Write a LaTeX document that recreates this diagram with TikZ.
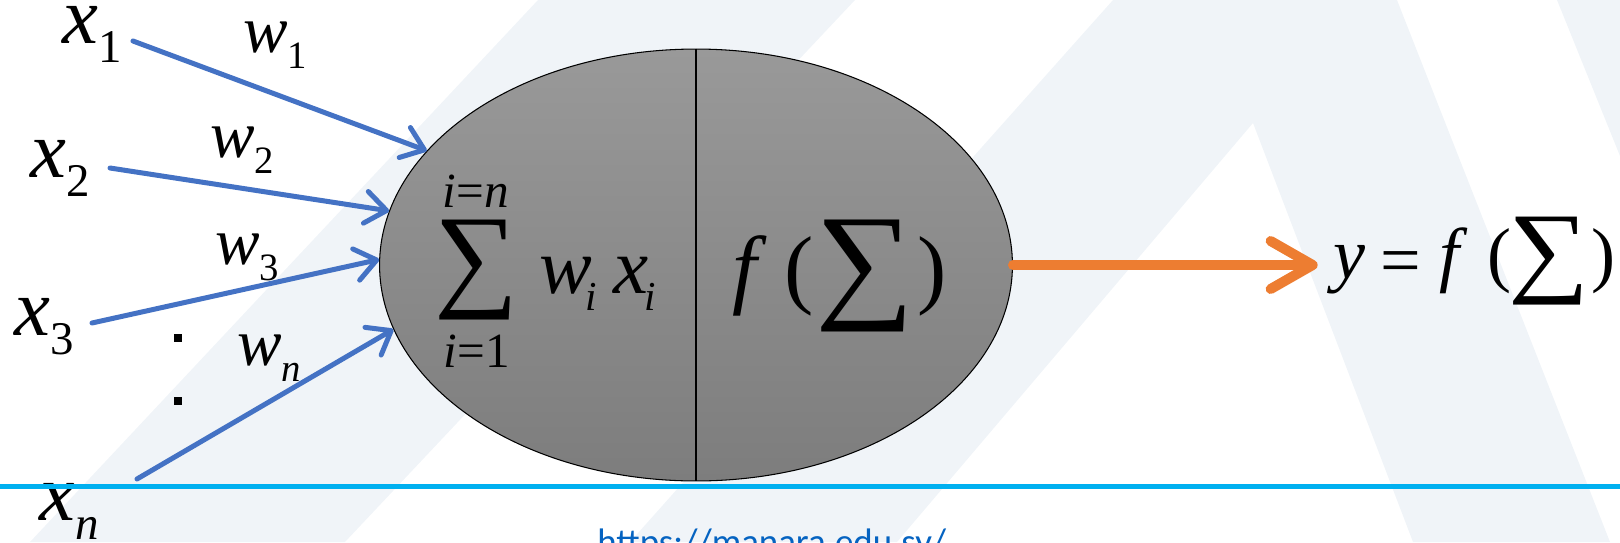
\documentclass[tikz,border=0pt]{standalone}
\usepackage{graphicx}
\usepackage{fontspec}
\setmainfont{Liberation Serif}
\newfontfamily\urlfont{Carlito}
\newfontfamily\sumfont{Liberation Serif}
\usetikzlibrary{arrows.meta,shapes.geometric}
\definecolor{bandgray}{RGB}{240,244,248}
\definecolor{neutop}{RGB}{153,153,153}
\definecolor{neubot}{RGB}{125,125,125}
\definecolor{inblue}{RGB}{68,114,196}
\definecolor{outorange}{RGB}{237,125,49}
\definecolor{rulecyan}{RGB}{0,176,240}
\definecolor{linkblue}{RGB}{5,99,193}
\newcommand{\isub}[2]{\textit{#1}\raisebox{-0.24em}{\scalebox{0.58}{#2}}}
\newcommand{\isum}[2]{\resizebox*{#1}{#2}{\sumfont ∑}}

\begin{document}
\begin{tikzpicture}[
    x=0.02cm, y=-0.02cm,
    band/.style={fill=bandgray},
    neuron/.style={ellipse, draw, line width=0.6pt, top color=neutop, bottom color=neubot,
                   minimum width=12.66cm, minimum height=8.64cm, inner sep=0pt},
    inlbl/.style={font=\fontsize{46}{46}\selectfont, anchor=base west, inner sep=0pt},
    wlbl/.style={font=\fontsize{38}{38}\selectfont, anchor=base west, inner sep=0pt},
    limlbl/.style={font=\fontsize{28}{28}\selectfont, anchor=base, inner sep=0pt},
    fglyph/.style={font=\fontsize{50}{50}\selectfont, anchor=base, inner sep=0pt},
    yglyph/.style={font=\fontsize{41}{41}\selectfont, anchor=base, inner sep=0pt},
    inarrow/.style={draw=inblue, line width=0.1cm, line cap=round,
                    -{Straight Barb[round, length=0.42cm, width=0.64cm]}},
    outarrow/.style={draw=outorange, line width=0.2cm, line cap=round,
                     -{Straight Barb[round, length=0.84cm, width=0.96cm]}}
  ]
  \clip (0,0) rectangle (1620,542);
  % watermark bands
  \fill[band] (538,0) -- (855,0) -- (345,542) -- (30,542) -- cycle;
  \fill[band] (1113,0) -- (1397,0) -- (1610,542) -- (1413,542) -- (1253,123)
              -- (897,542) -- (630,542) -- cycle;
  \fill[band] (1557,0) -- (1620,0) -- (1620,156) -- cycle;

  \node[neuron] (neuron) at (696,265) {};
  \draw[line width=0.045cm] (neuron.north) -- (neuron.south);

  % weighted sum
  \node[limlbl] (sumtop) at (476,207) {\textit{i}=\textit{n}};
  \node[inner sep=0pt] (sumleft) at (476,270) {\isum{1.68cm}{2cm}};
  \node[limlbl] (sumbot) at (477,367) {\textit{i}=1};
  \node[font=\fontsize{45}{45}\selectfont, anchor=base west, inner sep=0pt] (wx) at (539,293)
    {\textit{w}\kern-0.08em\raisebox{-0.22em}{\scalebox{0.52}{\textit{i}}}\kern0.2em
     \textit{x}\kern-0.04em\raisebox{-0.22em}{\scalebox{0.52}{\textit{i}}}};

  % activation
  \node[fglyph] (fsym) at (750,297) {\textit{f}};
  \node[fglyph] (flpar) at (799,297) {(};
  \node[inner sep=0pt] (fsum) at (865,276) {\isum{1.98cm}{2.24cm}};
  \node[fglyph] (frpar) at (932,297) {)};

  % output
  \node[yglyph] (ysym) at (1349,278) {\textit{y}};
  \node[yglyph] (yeq) at (1401,284) {=};
  \node[yglyph] (yf) at (1454,278) {\textit{f}};
  \node[yglyph] (ylpar) at (1499,278) {(};
  \node[inner sep=0pt] (ysum) at (1549,261) {\isum{1.62cm}{1.76cm}};
  \node[yglyph] (yrpar) at (1603,278) {)};

  \node[inlbl] (x1) at (62,43) {\isub{x}{1}};
  \node[wlbl] (w1) at (243,52) {\isub{w}{1}};
  \node[inlbl] (x2) at (30,177) {\isub{x}{2}};
  \node[wlbl] (w2) at (210,157) {\isub{w}{2}};
  \node[wlbl] (w3) at (215,264) {\isub{w}{3}};
  \node[inlbl] (x3) at (14,335) {\isub{x}{3}};
  \node[wlbl] (wn) at (237,365) {\isub{w}{\textit{n}}};
  \node[inlbl] (xn) at (39,520) {\isub{x}{\textit{n}}};

  \fill (174,334) rectangle (182,342);
  \fill (174,397) rectangle (182,405);

  \coordinate (s1) at (133,41);
  \coordinate (s2) at (110,168);
  \coordinate (s3) at (92,323);
  \coordinate (sn) at (137,479);
  \draw[inarrow] (s1) -- (neuron.157);
  \draw[inarrow] (s2) -- (neuron.170);
  \draw[inarrow] (s3) -- (neuron.179);
  \draw[inarrow] (sn) -- (neuron.192);
  \draw[outarrow, shorten >=0.3cm] (neuron.east) -- (neuron.east -| ysym.west);

  \draw[rulecyan, line width=0.11cm] (0,486.5) -- (1620,486.5);
  \node[font=\urlfont\fontsize{21}{21}\selectfont, text=linkblue, anchor=base west, inner sep=0pt]
    (url) at (597,554) {https://manara.edu.sy/};
\end{tikzpicture}
\end{document}
